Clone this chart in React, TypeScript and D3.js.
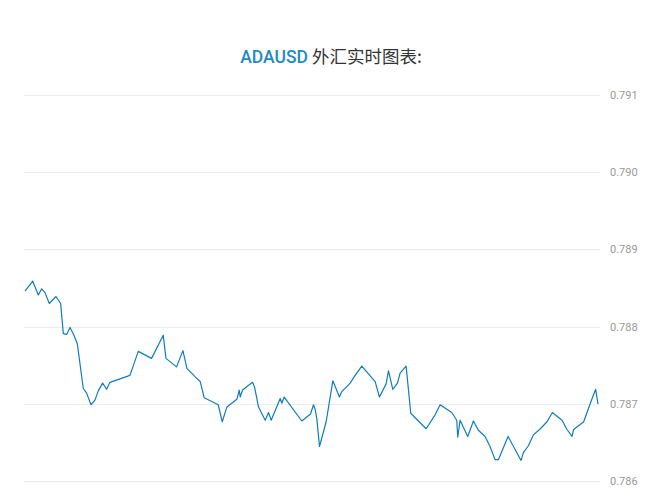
import React, { useEffect, useRef } from "react";
import * as d3 from "d3";

const W = 662;
const H = 503;

const yTicks = [0.786, 0.787, 0.788, 0.789, 0.79, 0.791];
const yTickLabels = ["0.786", "0.787", "0.788", "0.789", "0.790", "0.791"];

const titleSymbol = "ADAUSD";
const titleRest = " 外汇实时图表:";

// time (minutes from start)
const times = [
  0, 2.3, 4.0, 5.0, 6.0, 7.3, 9.3, 10.7, 11.5, 12.5,
  13.5, 14.7, 15.7, 17.5, 18.5, 19.8, 21.0, 22.0, 23.3, 24.5,
  25.5, 31.5, 34.0, 38.0, 41.5, 42.3, 45.5, 47.4, 48.6, 51.1,
  52.6, 53.8, 58.0, 59.2, 60.6, 63.6, 64.3, 64.6, 65.3, 68.3,
  68.9, 70.1, 72.1, 73.1, 73.9, 76.6, 77.1, 77.8, 83.1, 85.7,
  86.6, 87.1, 87.6, 88.4, 90.4, 92.4, 94.4, 95.1, 97.6, 99.1,
  101.1, 105.1, 106.4, 108.4, 109.1, 110.4, 111.8, 112.6, 114.4, 115.8,
  120.4, 123.1, 124.6, 128.1, 129.6, 129.9, 130.6, 132.9, 134.6, 136.1,
  138.1, 139.6, 141.1, 142.1, 145.0, 148.9, 149.6, 151.1, 152.6, 154.7,
  156.7, 158.3, 161.2, 162.7, 164.2, 164.7, 167.7, 169.7, 171.3, 172.0,
];

const prices = [
  0.78846, 0.78859, 0.78841, 0.78849, 0.78844, 0.7883, 0.78839, 0.7883, 0.78791, 0.7879,
  0.78799, 0.78789, 0.78778, 0.7872, 0.78714, 0.78699, 0.78705, 0.78717, 0.78727, 0.78719,
  0.78728, 0.78737, 0.78768, 0.78759, 0.78789, 0.78759, 0.78748, 0.78769, 0.78746, 0.78735,
  0.78729, 0.78708, 0.78699, 0.78677, 0.78696, 0.78706, 0.78718, 0.78709, 0.78718, 0.78728,
  0.78722, 0.78696, 0.78679, 0.78689, 0.78679, 0.78707, 0.78701, 0.78709, 0.78678, 0.78687,
  0.78699, 0.78693, 0.78681, 0.78645, 0.78677, 0.7873, 0.78709, 0.78716, 0.78727, 0.78737,
  0.78749, 0.78729, 0.78709, 0.78726, 0.78743, 0.78719, 0.78727, 0.7874, 0.78749, 0.78688,
  0.78668, 0.78686, 0.78699, 0.78689, 0.78679, 0.78657, 0.78679, 0.78658, 0.78678, 0.78666,
  0.78658, 0.78645, 0.78628, 0.78628, 0.78658, 0.78627, 0.78637, 0.78646, 0.7866, 0.78668,
  0.78677, 0.78689, 0.78679, 0.78667, 0.78658, 0.78667, 0.78677, 0.78701, 0.78719, 0.787,
];

export default function App() {
  const ref = useRef<SVGSVGElement>(null);

  useEffect(() => {
    const svg = d3.select(ref.current);
    svg.selectAll("*").remove();

    const x = d3.scaleLinear().domain([0, 172]).range([25, 598]);
    const y = d3.scaleLinear().domain([0.786, 0.791]).range([481.3, 94.7]);

    // title
    const title = svg
      .append("text")
      .attr("x", 331)
      .attr("y", 63)
      .attr("text-anchor", "middle")
      .style("font-size", "17.5px")
      .style("font-family", "Roboto, 'Noto Sans CJK SC', sans-serif");
    title
      .append("tspan")
      .attr("fill", "#1f8ac2")
      .style("font-weight", "500")
      .text(titleSymbol);
    title
      .append("tspan")
      .attr("fill", "#333")
      .style("font-family", "'Noto Sans CJK SC', sans-serif")
      .text(titleRest);

    // grid
    const g = svg.append("g");
    yTicks.forEach((t, i) => {
      g.append("line")
        .attr("x1", 24)
        .attr("x2", 600)
        .attr("y1", Math.round(y(t)) + 0.5)
        .attr("y2", Math.round(y(t)) + 0.5)
        .attr("stroke", "#ebebeb")
        .attr("stroke-width", 1);
      g.append("text")
        .attr("x", 610)
        .attr("y", y(t))
        .attr("dy", "0.35em")
        .attr("fill", "#999")
        .style("font-size", "11px")
        .style("font-family", "Roboto, sans-serif")
        .text(yTickLabels[i]);
    });

    const data = times.map((t, i) => [t, prices[i]] as [number, number]);
    const line = d3
      .line<[number, number]>()
      .x((d) => x(d[0]))
      .y((d) => y(d[1]));

    svg
      .append("path")
      .datum(data)
      .attr("d", line)
      .attr("fill", "none")
      .attr("stroke", "#0f7dbd")
      .attr("stroke-width", 1.2)
      .attr("stroke-linejoin", "round");
  }, []);

  return (
    <svg
      ref={ref}
      width={W}
      height={H}
      style={{ position: "absolute", left: 0, top: 0, background: "#fff" }}
    />
  );
}
